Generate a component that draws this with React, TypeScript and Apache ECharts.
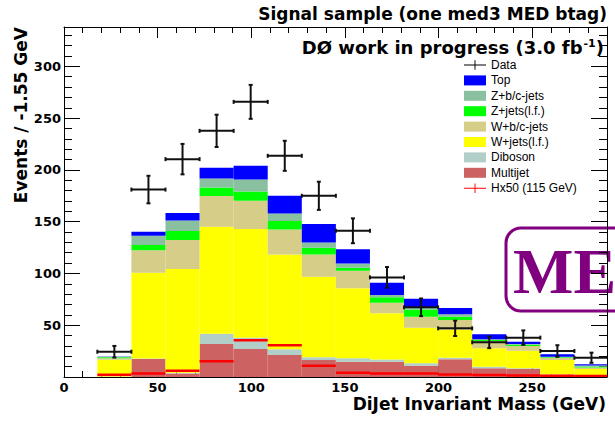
import React, { useEffect, useRef } from "react";
import * as echarts from "echarts";

// ---- data ----
const binEdges = [17.8, 36.0, 54.2, 72.4, 90.6, 108.8, 127.0, 145.2, 163.4, 181.6, 199.8, 218.0, 236.2, 254.4, 272.6, 290.8];
const multijet = [0.3, 17.4, 3.5, 31.9, 27.0, 21.2, 16.4, 14.8, 14.8, 10.9, 17.1, 8.4, 7.7, 2.0, 0.5];
const diboson = [0.3, 0.5, 0.5, 9.9, 10.9, 5.5, 2.6, 3.2, 2.2, 2.3, 1.5, 1.6, 0.8, 0.5, 0.2];
const wJetsLF = [16.0, 82.8, 100.2, 103.2, 105.0, 91.7, 77.8, 67.6, 44.5, 34.4, 26.8, 17.7, 16.9, 13.9, 7.0];
const wJetsBC = [1.5, 21.6, 28.0, 29.7, 27.3, 24.1, 21.6, 17.0, 10.2, 10.6, 9.6, 7.0, 4.5, 1.9, 1.5];
const zJetsLF = [1.0, 5.1, 8.7, 8.4, 9.0, 8.1, 6.4, 2.9, 5.2, 7.1, 3.2, 1.0, 1.3, 0.7, 1.0];
const zJetsBC = [0.5, 9.0, 10.3, 8.7, 11.6, 7.4, 5.2, 4.2, 2.3, 2.0, 2.3, 0.7, 0.7, 0.6, 0.8];
const topQ = [0.2, 3.9, 7.1, 10.2, 13.2, 17.0, 17.7, 13.6, 11.8, 8.3, 6.1, 4.8, 2.2, 2.3, 1.3];
const dataValues = [24.4, 181.0, 210.4, 237.7, 265.7, 213.6, 175.0, 141.2, 96.2, 67.3, 47.0, 33.5, 38.0, 25.1, 18.6];
const dataErrors = [5.6, 13.3, 14.7, 15.6, 16.4, 14.5, 13.6, 12.0, 10.0, 8.5, 7.4, 5.6, 7.0, 5.6, 4.9];
const signalHx50 = [1.6, 2.9, 5.5, 14.8, 35.0, 30.2, 10.5, 3.6, 2.9, 2.9, 1.9, 1.5, 1.0, 0.8, 0.5];
const xTickValues = { min: 0, max: 290, major: 50, minor: 10 };
const yTickValues = { min: 0, max: 338, major: 50, minor: 10 };

const FONT = '"DejaVu Sans", "Liberation Sans", Arial, sans-serif';
const LFONT = '"Liberation Sans", Arial, Helvetica, sans-serif';

const stackComponents = [
  { name: "Multijet", values: multijet, color: "#cd6262" },
  { name: "Diboson", values: diboson, color: "#b2cec8" },
  { name: "W+jets(l.f.)", values: wJetsLF, color: "#ffff00" },
  { name: "W+b/c-jets", values: wJetsBC, color: "#d5cd88" },
  { name: "Z+jets(l.f.)", values: zJetsLF, color: "#00ff00" },
  { name: "Z+b/c-jets", values: zJetsBC, color: "#88c0a0" },
  { name: "Top", values: topQ, color: "#0000ff" },
];

const legendOrder = ["Data", "Top", "Z+b/c-jets", "Z+jets(l.f.)", "W+b/c-jets", "W+jets(l.f.)", "Diboson", "Multijet", "Hx50 (115 GeV)"];

function buildOption() {
  const cumulative = binEdges.slice(0, -1).map(() => 0);
  const stackSeries = stackComponents.map((comp) => {
    const rows = comp.values.map((v, i) => {
      const y0 = cumulative[i];
      const y1 = y0 + v;
      cumulative[i] = y1;
      return [binEdges[i], binEdges[i + 1], y0, y1];
    });
    return {
      type: "custom",
      name: comp.name,
      coordinateSystem: "cartesian2d",
      xAxisIndex: 0,
      yAxisIndex: 0,
      clip: true,
      itemStyle: { color: comp.color },
      encode: { x: [0, 1], y: [2, 3] },
      data: rows,
      z: 2,
      renderItem: (params: any, api: any) => {
        const p0 = api.coord([api.value(0), api.value(3)]);
        const p1 = api.coord([api.value(1), api.value(2)]);
        return {
          type: "rect",
          shape: { x: p0[0], y: p0[1], width: p1[0] - p0[0], height: p1[1] - p0[1] },
          style: { fill: comp.color },
        };
      },
    };
  });

  const signalSeries = {
    type: "custom",
    name: "Hx50 (115 GeV)",
    coordinateSystem: "cartesian2d",
    clip: true,
    itemStyle: { color: "#ff0000" },
    encode: { x: [0, 1], y: 2 },
    data: signalHx50.map((v, i) => [binEdges[i], binEdges[i + 1], v]),
    z: 3,
    renderItem: (params: any, api: any) => {
      const a = api.coord([api.value(0), api.value(2)]);
      const b = api.coord([api.value(1), api.value(2)]);
      return {
        type: "line",
        shape: { x1: a[0], y1: a[1] - 0.5, x2: b[0], y2: b[1] - 0.5 },
        style: { stroke: "#ff0000", lineWidth: 2.5 },
      };
    },
  };

  const dataSeries = {
    type: "custom",
    name: "Data",
    coordinateSystem: "cartesian2d",
    clip: true,
    itemStyle: { color: "#000000" },
    encode: { x: [0, 1], y: 2 },
    data: dataValues.map((v, i) => [binEdges[i], binEdges[i + 1], v, dataErrors[i]]),
    z: 4,
    renderItem: (params: any, api: any) => {
      const x0 = api.value(0), x1 = api.value(1), y = api.value(2), e = api.value(3);
      const xc = (x0 + x1) / 2;
      const l = api.coord([x0, y]);
      const r = api.coord([x1, y]);
      const t = api.coord([xc, y + e]);
      const b = api.coord([xc, y - e]);
      const st = { stroke: "#111", lineWidth: 2 };
      const cap = 2;
      return {
        type: "group",
        children: [
          { type: "line", shape: { x1: l[0], y1: l[1], x2: r[0], y2: r[1] }, style: st },
          { type: "line", shape: { x1: t[0], y1: t[1], x2: b[0], y2: b[1] }, style: st },
          { type: "line", shape: { x1: l[0], y1: l[1] - cap, x2: l[0], y2: l[1] + cap }, style: st },
          { type: "line", shape: { x1: r[0], y1: r[1] - cap, x2: r[0], y2: r[1] + cap }, style: st },
          { type: "line", shape: { x1: t[0] - cap, y1: t[1], x2: t[0] + cap, y2: t[1] }, style: st },
          { type: "line", shape: { x1: b[0] - cap, y1: b[1], x2: b[0] + cap, y2: b[1] }, style: st },
        ],
      };
    },
  };

  const lineOn = { show: true, onZero: false, lineStyle: { color: "#000", width: 1 } };
  const lineOff = { show: false, onZero: false };
  const mkX = (position: string, interval: number, tickLen: number, labels: boolean, line: boolean) => ({
    type: "value",
    position,
    min: xTickValues.min,
    max: xTickValues.max,
    interval,
    axisLine: line ? lineOn : lineOff,
    axisTick: { show: true, inside: true, length: tickLen, lineStyle: { color: "#000", width: 1 } },
    axisLabel: labels
      ? { show: true, showMaxLabel: false, margin: 4, color: "#000", fontSize: 13, fontWeight: "bold", fontFamily: FONT }
      : { show: false },
    splitLine: { show: false },
  });
  const mkY = (position: string, interval: number, tickLen: number, labels: boolean, line: boolean) => ({
    type: "value",
    position,
    min: yTickValues.min,
    max: yTickValues.max,
    interval,
    axisLine: line ? lineOn : lineOff,
    axisTick: { show: true, inside: true, length: tickLen, lineStyle: { color: "#000", width: 1 } },
    axisLabel: labels
      ? { show: true, showMaxLabel: false, showMinLabel: false, margin: 3, color: "#000", fontSize: 13, fontWeight: "bold", fontFamily: FONT }
      : { show: false },
    splitLine: { show: false },
  });

  const crossIcon = "path://M0,4.4H23V5.6H0Z M11,0H12V10H11Z";

  return {
    animation: false,
    backgroundColor: "#ffffff",
    grid: { left: 64, right: 8, top: 27, bottom: 45, containLabel: false },
    xAxis: [
      mkX("bottom", xTickValues.major, 11, true, true),
      mkX("bottom", xTickValues.minor, 6, false, false),
      mkX("top", xTickValues.major, 11, false, true),
      mkX("top", xTickValues.minor, 6, false, false),
    ],
    yAxis: [
      mkY("left", yTickValues.major, 16, true, true),
      mkY("left", yTickValues.minor, 8, false, false),
      mkY("right", yTickValues.major, 16, false, true),
      mkY("right", yTickValues.minor, 8, false, false),
    ],
    legend: {
      show: true,
      orient: "vertical",
      left: 464,
      top: 59,
      padding: 0,
      itemWidth: 22,
      itemHeight: 10,
      itemGap: 3.4,
      selectedMode: false,
      textStyle: { fontSize: 12, color: "#000", fontFamily: LFONT, lineHeight: 10 },
      data: legendOrder.map((n) => {
        if (n === "Data" || n === "Hx50 (115 GeV)") return { name: n, icon: crossIcon };
        return { name: n, icon: "rect" };
      }),
    },
    series: [...stackSeries, signalSeries, dataSeries],
    graphic: [
      {
        type: "text",
        x: 607,
        y: 14,
        style: {
          text: "Signal sample (one med3 MED btag)",
          fill: "#000",
          font: `bold 17px ${FONT}`,
          textAlign: "right",
          textVerticalAlign: "middle",
        },
      },
      {
        type: "text",
        x: 604,
        y: 47,
        style: {
          text: "{a|DØ work in progress (3.0 fb}{s|-1}{a|)}",
          fill: "#000",
          textAlign: "right",
          textVerticalAlign: "middle",
          rich: {
            a: { fontSize: 18, lineHeight: 18, fontWeight: "bold", fontFamily: FONT, fill: "#000", verticalAlign: "bottom" },
            s: { fontSize: 11, lineHeight: 11, fontWeight: "bold", fontFamily: FONT, fill: "#000", verticalAlign: "top", padding: [0, 0, 7, 1] },
          },
        },
      },
      {
        type: "text",
        x: 21,
        y: 27,
        rotation: Math.PI / 2,
        style: {
          text: "Events / -1.55 GeV",
          fill: "#000",
          font: `bold 17px ${FONT}`,
          textAlign: "right",
          textVerticalAlign: "middle",
        },
      },
      {
        type: "text",
        x: 606,
        y: 404,
        style: {
          text: "DiJet Invariant Mass (GeV)",
          fill: "#000",
          font: `bold 17px ${FONT}`,
          textAlign: "right",
          textVerticalAlign: "middle",
        },
      },
      {
        type: "group",
        z: 100,
        children: [
          {
            type: "rect",
            shape: { x: 506, y: 228, width: 150, height: 83, r: 15 },
            style: { fill: "#ffffff", stroke: "#800080", lineWidth: 3 },
          },
          {
            type: "text",
            x: 513,
            y: 271.5,
            style: {
              text: "MED",
              fill: "#800080",
              font: 'bold 64px "Liberation Serif", "Times New Roman", serif',
              textVerticalAlign: "middle",
            },
          },
        ],
      },
    ],
  };
}

export default function App() {
  const ref = useRef<HTMLDivElement>(null);
  useEffect(() => {
    if (!ref.current) return;
    const chart = echarts.init(ref.current, undefined, { renderer: "svg" });
    chart.setOption(buildOption() as any);
    return () => chart.dispose();
  }, []);
  return (
    <div
      ref={ref}
      style={{ position: "fixed", left: 0, top: 0, width: 615, height: 422, background: "#fff" }}
    />
  );
}
